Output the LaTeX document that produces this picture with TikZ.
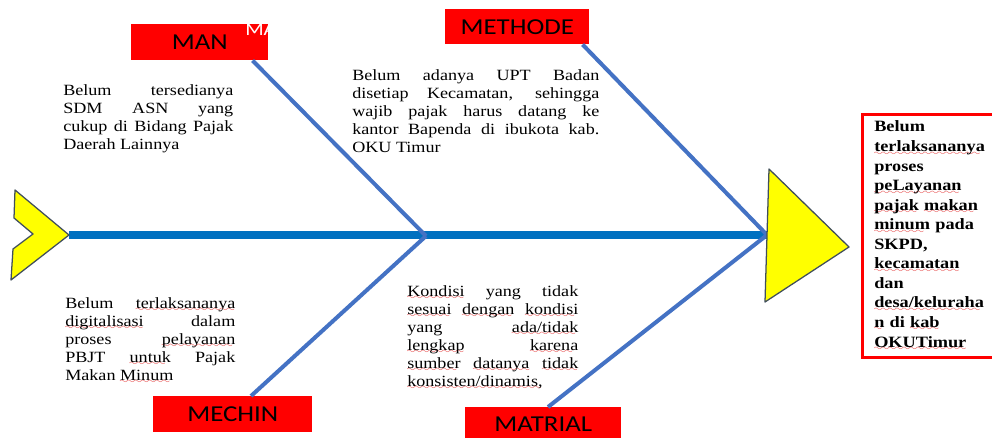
\documentclass[tikz,border=0pt]{standalone}
\usepackage{fontspec}
\setmainfont{Liberation Serif}[FakeStretch=1.16]
\newfontfamily\labelfont{Carlito}[FakeStretch=1.18]
\usetikzlibrary{positioning}
\definecolor{causered}{RGB}{255,0,0}
\definecolor{spineblue}{RGB}{0,112,192}
\definecolor{boneblue}{RGB}{68,114,196}
\definecolor{fishyellow}{RGB}{255,255,0}
\definecolor{outline}{RGB}{64,78,92}
\definecolor{squiggle}{RGB}{228,50,50}
\font\sixly=lasy6
\newcommand\spell[1]{\setbox0\hbox{#1}\leavevmode
    \rlap{\textcolor{squiggle}{\lower2.5pt\hbox to\wd0{\leaders\hbox{\sixly\char58}\hfil}}}\box0\relax}
\tikzset{
    % Cause label
    cause/.style={
        fill=causered,
        draw=none,
        text=black,
        font=\labelfont\fontsize{16.2}{18}\selectfont,
        anchor=north west,
        inner sep=0pt,
        minimum height=0.9cm,
    },
    % Cause description
    note/.style={
        anchor=north west,
        inner sep=0pt,
        text width=4.25cm,
        align=justify,
        font=\fontsize{11.1}{12.8}\selectfont,
    },
    % Effect
    effect/.style={
        draw=causered,
        line width=1.8pt,
        anchor=north west,
        inner xsep=0.3cm,
        inner ysep=0.17cm,
        text width=3.6cm,
        minimum height=6cm,
        align=left,
        font=\bfseries\fontsize{11.2}{13.9}\selectfont,
    },
    bone/.style={draw=boneblue, line width=2.85pt},
    spine/.style={draw=spineblue, line width=5.3pt},
    fishpart/.style={fill=fishyellow, draw=outline, line width=0.9pt, line join=round},
}
\begin{document}
\begin{tikzpicture}[x=0.025cm, y=-0.025cm]
    \useasboundingbox (0,0) rectangle (992,438);
    \clip (0,0) rectangle (992,438);
    \fill[white] (0,0) rectangle (992,438);

    % Cause labels
    \node[cause, minimum width=3.425cm] (man) at (131,24) {MAN};
    \node[anchor=north west, inner sep=0pt, text=white,
        font=\labelfont\fontsize{13}{14}\selectfont] (mantag) at (245,23) {MA};
    \node[cause, minimum width=3.6cm, minimum height=0.875cm] (methode) at (445,9) {METHODE};
    \node[cause, minimum width=3.975cm] (mechin) at (153,396) {MECHIN};
    \node[cause, minimum width=3.9cm, minimum height=0.85cm] (matrial) at (465,407) {MATRIAL};

    % Joints on the spine
    \coordinate (tail) at (69,235);
    \coordinate (jleft) at (426,236);
    \coordinate (jright) at (767,235);

    % Draw spine and bones
    \draw[spine] (tail) -- (jright);
    \draw[bone] ([xshift=-0.4cm]man.south east) -- (jleft);
    \draw[bone] ([xshift=2.45cm]mechin.north west) -- (jleft);
    \draw[bone] ([xshift=-0.175cm]methode.south east) -- (jright);
    \draw[bone] ([xshift=2.075cm]matrial.north west) -- (jright);

    % Tail and head
    \filldraw[fishpart] (15,190) -- (tail) -- (11,280) -- (13,249) -- (33,234) -- (14,218) -- cycle;
    \filldraw[fishpart] (769,169) -- (849,247) -- (765,302) -- cycle;

    % Descriptions
    \node[note] (mannote) at (63,84.5) {Belum tersedianya\linebreak
        SDM ASN yang\linebreak cukup di Bidang Pajak\linebreak Daerah Lainnya};
    \node[note, text width=6.175cm] (methodenote) at (352,69.5) {Belum adanya UPT Badan\linebreak
        disetiap Kecamatan, sehingga\linebreak wajib pajak harus datang ke\linebreak
        kantor Bapenda di ibukota kab.\linebreak OKU Timur};
    \node[note] (mechinnote) at (65,297) {Belum \spell{terlaksananya}\linebreak
        \spell{digitalisasi} dalam\linebreak proses \spell{pelayanan}\linebreak
        PBJT \spell{untuk} Pajak\linebreak Makan \spell{Minum}};
    \node[note, text width=4.275cm] (matrialnote) at (407,285) {\spell{Kondisi} yang tidak\linebreak
        \spell{sesuai} \spell{dengan} \spell{kondisi}\linebreak yang \spell{ada/tidak}\linebreak
        \spell{lengkap} \spell{karena}\linebreak \spell{sumber} \spell{datanya} \spell{tidak}\linebreak
        \spell{konsisten/dinamis,}};

    % Effect
    \node[effect] (effect) at (861,113) {Belum\\ \spell{terlaksananya}\\ proses\\
        \spell{peLayanan}\\ \spell{pajak} \spell{makan}\\ \spell{minum} pada\\ SKPD,\\
        \spell{kecamatan}\\ dan\\ \spell{desa/keluraha}\\ \spell{n} di \spell{kab}\\ \spell{OKUTimur}};
\end{tikzpicture}
\end{document}
